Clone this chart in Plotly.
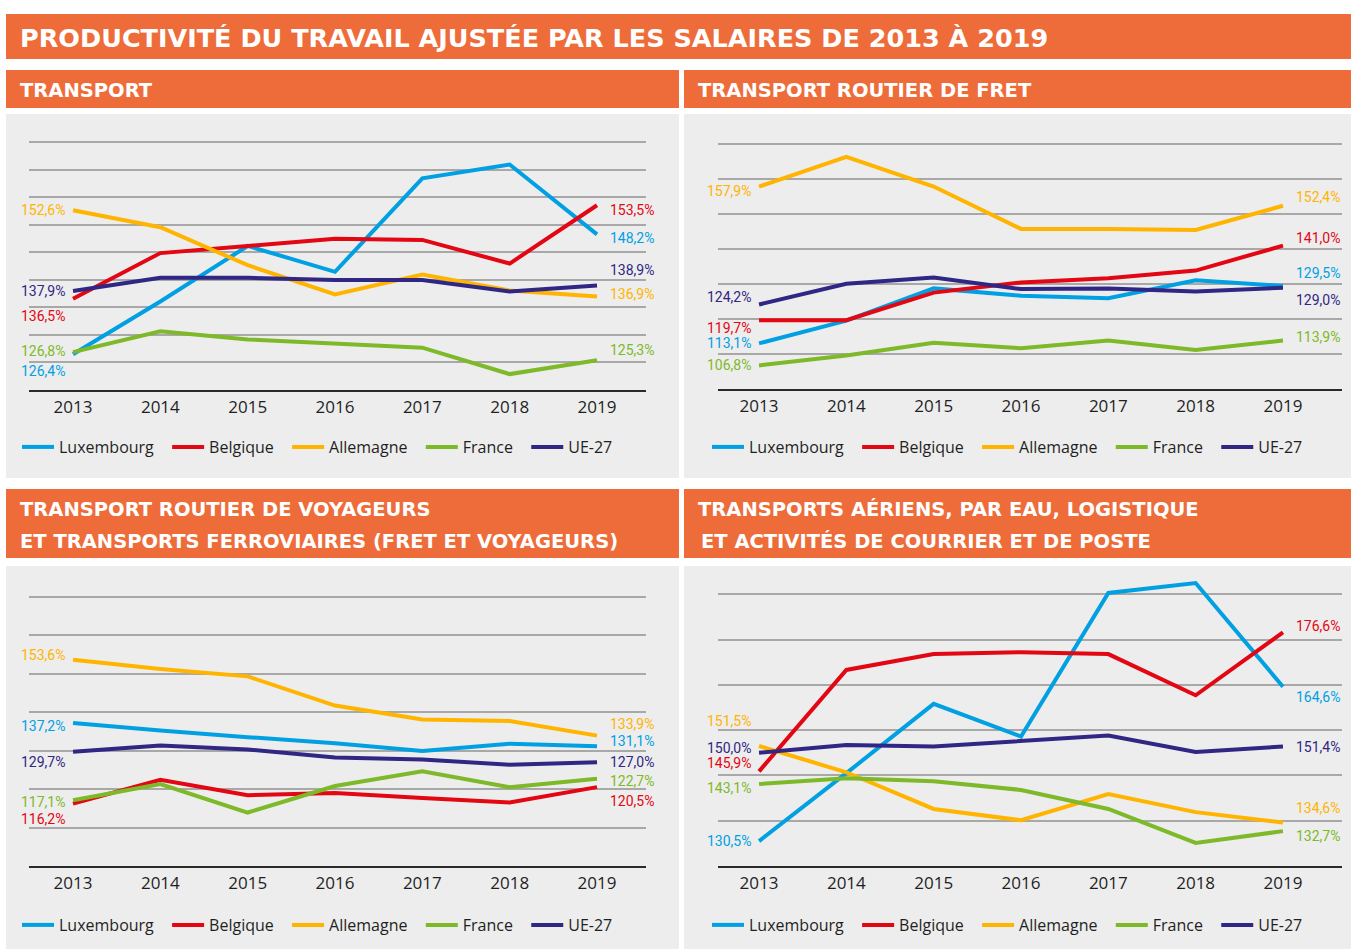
import plotly.graph_objects as go

W, H = 1354, 949

years = [2013, 2014, 2015, 2016, 2017, 2018, 2019]
series_names = ["Luxembourg", "Belgique", "Allemagne", "France", "UE-27"]
colors = ["#00A0E3", "#E30613", "#FFB400", "#7DB928", "#302683"]

main_title = "PRODUCTIVITÉ DU TRAVAIL AJUSTÉE PAR LES SALAIRES DE 2013 À 2019"
panel_titles = [
    ["TRANSPORT"],
    ["TRANSPORT ROUTIER DE FRET"],
    ["TRANSPORT ROUTIER DE VOYAGEURS", "ET TRANSPORTS FERROVIAIRES (FRET ET VOYAGEURS)"],
    ["TRANSPORTS AÉRIENS, PAR EAU, LOGISTIQUE", "ET ACTIVITÉS DE COURRIER ET DE POSTE"],
]

# Transport
transport_lux = [126.4, 136.0, 146.1, 141.4, 158.4, 160.9, 148.2]
transport_bel = [136.5, 144.8, 146.1, 147.4, 147.2, 142.9, 153.5]
transport_all = [152.6, 149.5, 142.6, 137.3, 140.9, 138.0, 136.9]
transport_fra = [126.8, 130.6, 129.1, 128.3, 127.6, 122.8, 125.3]
transport_ue = [137.9, 140.3, 140.3, 139.9, 139.9, 137.8, 138.9]

# Transport routier de fret
fret_lux = [113.1, 119.6, 128.8, 126.7, 126.0, 131.1, 129.5]
fret_bel = [119.7, 119.7, 127.6, 130.5, 131.7, 133.9, 141.0]
fret_all = [157.9, 166.4, 157.9, 145.8, 145.8, 145.5, 152.4]
fret_fra = [106.8, 109.6, 113.3, 111.7, 113.9, 111.2, 113.9]
fret_ue = [124.2, 130.1, 131.9, 128.6, 128.8, 127.9, 129.0]

# Transport routier de voyageurs et ferroviaire
voy_lux = [137.2, 135.2, 133.5, 131.9, 129.9, 131.8, 131.1]
voy_bel = [116.2, 122.4, 118.4, 119.0, 117.7, 116.5, 120.5]
voy_all = [153.6, 151.2, 149.3, 141.7, 138.1, 137.7, 133.9]
voy_fra = [117.1, 121.3, 113.9, 120.8, 124.6, 120.5, 122.7]
voy_ue = [129.7, 131.3, 130.3, 128.2, 127.7, 126.3, 127.0]

# Transports aeriens, par eau, logistique, courrier
air_lux = [130.5, 145.5, 160.8, 153.6, 185.3, 187.5, 164.6]
air_bel = [145.9, 168.3, 171.8, 172.2, 171.8, 162.7, 176.6]
air_all = [151.5, 145.7, 137.6, 135.1, 140.9, 136.9, 134.6]
air_fra = [143.1, 144.4, 143.7, 141.8, 137.6, 130.1, 132.7]
air_ue = [150.0, 151.7, 151.4, 152.6, 153.8, 150.2, 151.4]

panels_data = [
    [transport_lux, transport_bel, transport_all, transport_fra, transport_ue],
    [fret_lux, fret_bel, fret_all, fret_fra, fret_ue],
    [voy_lux, voy_bel, voy_all, voy_fra, voy_ue],
    [air_lux, air_bel, air_all, air_fra, air_ue],
]

# plotting areas in pixels (left, right, top, bottom)
plot_boxes = [
    (29, 646, 136.5, 389.5),
    (718, 1342, 140.7, 389.2),
    (29, 646, 592.9, 866),
    (718, 1342, 576.2, 866),
]
y_ranges = [(120, 166), (100, 171), (100, 171), (125, 189)]
y_steps = [5, 10, 10, 10]
x_ranges = [(2012.496, 2019.561), (2012.53, 2019.676),
            (2012.496, 2019.561), (2012.53, 2019.676)]

# label vertical nudges (px), order: Lux, Bel, All, Fra, UE
left_shift = [[-17, -17, 0, 1, 0], [0, -8, -4, 0, 8],
              [-3, -15, 5, -2, -10], [0, 8, 25, -4, 5]]
right_shift = [[-4, -5, 3, 10, 16], [13, 8, 9, 4, -12],
               [5, -14, 12, -2, 0], [-10, 6, 15, -5, -1]]

orange = "#EE6C3A"
panel_bg = "#EDEDED"
font = "Open Sans, Roboto, sans-serif"
head_font = "DejaVu Sans, Open Sans, sans-serif"
label_font = "Roboto, sans-serif"


def px(x):
    return x / W


def py(y):
    return 1 - y / H


fig = go.Figure()
shapes = []
annotations = []

# title bar
shapes.append(dict(type="rect", xref="paper", yref="paper", x0=px(6), x1=px(1351),
                   y0=py(59), y1=py(14), fillcolor=orange, line_width=0, layer="below"))
annotations.append(dict(xref="paper", yref="paper", x=px(18), y=py(38), xanchor="left",
                        yanchor="middle", text=main_title, showarrow=False,
                        font=dict(family=head_font, size=25.5, color="white", weight="bold")))

cols = [(6, 679), (684, 1351), (6, 679), (684, 1351)]
headers = [(70, 108), (70, 108), (489, 558), (489, 558)]
bgs = [(114, 478), (114, 478), (566, 949), (566, 949)]
legend_pos = [(17, 447), (707, 447), (17, 925), (707, 925)]

for i in range(4):
    c0, c1 = cols[i]
    h0, h1 = headers[i]
    b0, b1 = bgs[i]
    shapes.append(dict(type="rect", xref="paper", yref="paper", x0=px(c0), x1=px(c1),
                       y0=py(h1), y1=py(h0), fillcolor=orange, line_width=0, layer="below"))
    shapes.append(dict(type="rect", xref="paper", yref="paper", x0=px(c0), x1=px(c1),
                       y0=py(b1), y1=py(b0), fillcolor=panel_bg, line_width=0, layer="below"))
    lines = panel_titles[i]
    if len(lines) == 1:
        ys = [(h0 + h1) / 2 + 1.5]
    else:
        ys = [h0 + 20, h0 + 52]
    for j, (t, yy) in enumerate(zip(lines, ys)):
        annotations.append(dict(xref="paper", yref="paper", x=px(c0 + 12 + (3 if (i == 3 and j == 1) else 0)),
                                y=py(yy), xanchor="left", yanchor="middle", text=t,
                                showarrow=False,
                                font=dict(family=head_font, size=19.5, color="white", weight="bold")))

    sfx = "" if i == 0 else str(i + 1)
    leg = "legend" if i == 0 else "legend" + str(i + 1)
    for k, name in enumerate(series_names):
        vals = panels_data[i][k]
        fig.add_trace(go.Scatter(
            x=years, y=vals, mode="lines", name=name + "\u00a0\u00a0",
            line=dict(color=colors[k], width=4),
            xaxis="x" + sfx, yaxis="y" + sfx, legend=leg,
            hoverinfo="skip",
        ))
        for side, xv, v, shift in (("right", years[0], vals[0], left_shift[i][k]),
                                   ("left", years[-1], vals[-1], right_shift[i][k])):
            txt = f"{v:.1f}%".replace(".", ",")
            annotations.append(dict(
                xref="x" + sfx, yref="y" + sfx,
                x=xv, y=v, xanchor=side, yanchor="middle",
                xshift=-6 if side == "right" else 11,
                yshift=shift, text=txt, showarrow=False,
                font=dict(family=label_font, size=14, color=colors[k]),
            ))

    l, r, t, b = plot_boxes[i]
    xa = dict(domain=[px(l), px(r)], range=list(x_ranges[i]), anchor="y" + sfx,
              tickvals=years, ticktext=[str(y) for y in years],
              showgrid=False, zeroline=False, showline=True, linecolor="#2a2a2a",
              linewidth=1.5, ticks="", ticklabelstandoff=1,
              tickfont=dict(family=font, size=17, color="#1f1f1f"), fixedrange=True)
    ya = dict(domain=[py(b), py(t)], range=list(y_ranges[i]), anchor="x" + sfx,
              showticklabels=False, showgrid=True, gridcolor="#A8A8A8", gridwidth=1.5,
              tick0=y_ranges[i][0], dtick=y_steps[i], zeroline=False, showline=False,
              fixedrange=True)
    lx, ly = legend_pos[i]
    lg = dict(orientation="h", x=px(lx), y=py(ly), xanchor="left", yanchor="middle",
              bgcolor="rgba(0,0,0,0)", font=dict(family=font, size=16, color="#1f1f1f"),
              itemwidth=32, itemclick=False, itemdoubleclick=False)
    fig.update_layout({"xaxis" + sfx: xa, "yaxis" + sfx: ya, leg: lg})

fig.update_layout(
    width=W, height=H,
    margin=dict(l=0, r=0, t=0, b=0),
    paper_bgcolor="white", plot_bgcolor="rgba(0,0,0,0)",
    shapes=shapes, annotations=annotations,
    showlegend=True,
)

fig.write_html("out.html", config={"displayModeBar": False},
               post_script="document.body.style.margin='0';")
